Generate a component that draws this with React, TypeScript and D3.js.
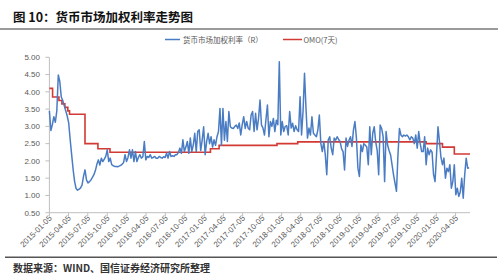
import React from "react";
import * as d3 from "d3";

const W = 498;
const H = 278;

const titleText = "图 10：货币市场加权利率走势图";
const sourceText = "数据来源：WIND、国信证券经济研究所整理";
const seriesNames = ["货币市场加权利率（R）", "OMO(7天)"];

const yTicks = [0.5, 1.0, 1.5, 2.0, 2.5, 3.0, 3.5, 4.0, 4.5, 5.0];
const xTickLabels = [
  "2015-01-05", "2015-04-05", "2015-07-05", "2015-10-05",
  "2016-01-05", "2016-04-05", "2016-07-05", "2016-10-05",
  "2017-01-05", "2017-04-05", "2017-07-05", "2017-10-05",
  "2018-01-05", "2018-04-05", "2018-07-05", "2018-10-05",
  "2019-01-05", "2019-04-05", "2019-07-05", "2019-10-05",
  "2020-01-05", "2020-04-05",
];

// OMO 7-day reverse repo rate (step series)
const omoDates = [
  "2015-01-05", "2015-01-20", "2015-02-19", "2015-03-05", "2015-03-19",
  "2015-04-02", "2015-04-10", "2015-06-22", "2015-08-22", "2015-10-18",
  "2017-02-03", "2017-03-16", "2017-12-14", "2018-03-22", "2019-11-18",
  "2020-02-03", "2020-03-30", "2020-06-12",
];
const omoValues = [
  4.10, 3.85, 3.75, 3.65, 3.55,
  3.45, 3.35, 2.50, 2.35, 2.25,
  2.35, 2.45, 2.50, 2.55, 2.50,
  2.40, 2.20, 2.20,
];

// Money market weighted rate, weekly readings starting 2015-01-05
const mmStart = "2015-01-05";
const mmValues = [
  3.45, 2.88, 3.05, 3.28, 3.12, 3.45, 4.49, 4.30, 3.85, 3.75,
  3.60, 3.45, 3.30, 3.10, 2.62, 2.18, 1.75, 1.40, 1.20, 1.15,
  1.18, 1.22, 1.30, 1.55, 1.74, 1.45, 1.36, 1.40, 1.45, 1.52,
  1.60, 1.72, 1.90, 2.03, 1.88, 2.08, 1.98, 2.05, 2.13, 2.32,
  1.98, 2.08, 1.89, 1.86, 1.84, 1.84, 1.83, 1.85, 1.87, 1.90,
  1.95, 2.18, 1.98, 2.10, 2.32, 2.08, 2.32, 1.98, 2.27, 1.98,
  2.10, 2.18, 2.08, 2.12, 2.56, 2.03, 2.13, 2.10, 2.18, 2.08,
  2.10, 2.13, 2.08, 2.08, 2.13, 2.10, 2.08, 2.12, 2.10, 2.22,
  2.08, 2.27, 2.13, 2.15, 2.13, 2.18, 2.18, 2.25, 2.37, 2.22,
  2.61, 2.27, 2.40, 2.56, 2.22, 2.66, 2.27, 2.46, 2.80, 2.27,
  2.85, 2.90, 2.30, 2.60, 2.99, 2.18, 2.56, 2.80, 2.50, 2.70,
  2.40, 2.61, 2.45, 2.70, 2.85, 3.52, 2.45, 3.52, 2.60, 3.14,
  2.56, 3.43, 2.99, 2.95, 2.94, 3.00, 3.04, 2.94, 3.10, 2.75,
  3.05, 3.28, 2.94, 3.14, 2.95, 2.90, 3.33, 3.43, 2.85, 3.38,
  2.90, 3.23, 3.76, 3.04, 2.95, 2.75, 3.20, 3.62, 2.70, 3.14,
  3.00, 3.23, 2.85, 3.18, 3.05, 4.87, 2.75, 3.14, 2.85, 3.00,
  3.02, 2.75, 3.43, 2.95, 3.09, 2.85, 3.02, 2.90, 2.85, 3.86,
  2.75, 3.43, 4.54, 3.52, 2.66, 2.95, 2.75, 3.28, 2.80, 2.75,
  2.70, 2.90, 3.33, 2.51, 2.27, 2.56, 2.18, 1.60, 2.61, 2.70,
  2.37, 2.18, 2.66, 2.60, 2.70, 2.62, 2.56, 2.35, 2.27, 1.74,
  2.66, 2.42, 2.60, 2.70, 2.42, 2.90, 3.14, 2.66, 1.79, 1.55,
  2.46, 2.27, 2.50, 2.45, 2.40, 1.89, 2.99, 2.18, 2.80, 2.99,
  2.55, 2.30, 1.60, 3.04, 2.94, 2.70, 1.40, 2.85, 2.46, 2.30,
  2.18, 1.89, 1.60, 1.36, 1.12, 2.18, 2.94, 2.75, 2.70, 2.75,
  2.72, 2.75, 2.70, 2.61, 2.70, 2.66, 2.50, 2.75, 2.37, 2.85,
  2.50, 2.27, 2.27, 2.70, 1.89, 2.37, 2.18, 2.32, 2.25, 1.60,
  1.40, 2.18, 2.99, 2.56, 2.10, 1.89, 2.08, 1.50, 1.79, 1.69,
  1.89, 1.21, 1.40, 1.89, 1.02, 1.21, 0.97, 1.10, 1.50, 0.92,
  1.60, 2.08, 1.79, 1.80,
];

const xDomain = ["2015-01-05", "2020-06-12"];

const parse = d3.timeParse("%Y-%m-%d");

export default function App() {
  const plot = { left: 49.4, right: 470, top: 57.3, bottom: 212.7 };
  const x = d3
    .scaleTime()
    .domain(xDomain.map((s) => parse(s) as Date))
    .range([plot.left, plot.right]);
  const y = d3.scaleLinear().domain([0.5, 5]).range([plot.bottom, plot.top]);

  const start = parse(mmStart) as Date;
  const mmData = mmValues.map((v, i) => ({ d: d3.timeDay.offset(start, 7 * i), v }));
  const omoData = omoDates.map((s, i) => ({ d: parse(s) as Date, v: omoValues[i] }));

  const line = d3
    .line<{ d: Date; v: number }>()
    .x((p) => x(p.d))
    .y((p) => y(p.v));
  const stepLine = d3
    .line<{ d: Date; v: number }>()
    .x((p) => x(p.d))
    .y((p) => y(p.v))
    .curve(d3.curveStepAfter);

  const axisColor = "#bfbfbf";
  const labelColor = "#595959";
  const blue = "#4a7cc4";
  const red = "#d23a34";
  const font = "'Noto Sans CJK SC', 'Noto Sans', sans-serif";

  return (
    <svg
      width={W}
      height={H}
      style={{ position: "absolute", left: 0, top: 0, background: "#fff" }}
      fontFamily={font}
    >
      {/* title */}
      <text x={13} y={22} fontSize={12.5} fontWeight={700} fill="#111">
        {titleText}
      </text>
      <rect x={0} y={28} width={W} height={2} fill="#9a9a9a" />

      {/* legend */}
      <line x1={165} x2={180} y1={39.5} y2={39.5} stroke={blue} strokeWidth={1.5} />
      <text x={183} y={42.5} fontSize={7.5} fill={labelColor}>
        {seriesNames[0]}
      </text>
      <line x1={283} x2={302} y1={39.5} y2={39.5} stroke={red} strokeWidth={1.5} />
      <text x={303.5} y={42.5} fontSize={7.5} fill={labelColor}>
        {seriesNames[1]}
      </text>

      {/* y axis */}
      <line x1={plot.left} x2={plot.left} y1={plot.top} y2={plot.bottom} stroke={axisColor} />
      {yTicks.map((t) => (
        <g key={t}>
          <line x1={plot.left - 4} x2={plot.left} y1={y(t)} y2={y(t)} stroke={axisColor} />
          <text
            x={40}
            y={y(t)}
            dy="0.35em"
            textAnchor="end"
            fontSize={8}
            fill={labelColor}
            fontFamily="'Liberation Sans', Arial, sans-serif"
          >
            {t.toFixed(2)}
          </text>
        </g>
      ))}

      {/* x axis */}
      <line x1={plot.left} x2={plot.right} y1={plot.bottom} y2={plot.bottom} stroke={axisColor} />
      {xTickLabels.map((s) => {
        const tx = x(parse(s) as Date);
        return (
          <g key={s}>
            <line x1={tx} x2={tx} y1={plot.bottom} y2={plot.bottom + 4} stroke={axisColor} />
            <text
              transform={`translate(${tx + 3},${plot.bottom + 6}) rotate(-45)`}
              textAnchor="end"
              fontSize={8}
              fill={labelColor}
              fontFamily="'Liberation Sans', Arial, sans-serif"
            >
              {s}
            </text>
          </g>
        );
      })}

      {/* series */}
      <path d={stepLine(omoData) || ""} fill="none" stroke={red} strokeWidth={1.6} />
      <path
        d={line(mmData) || ""}
        fill="none"
        stroke={blue}
        strokeWidth={1.5}
        strokeLinejoin="round"
      />

      {/* bottom rule and source */}
      <rect x={5} y={256.5} width={492} height={1.5} fill="#555" />
      <text x={13} y={272} fontSize={10} fontWeight={700} fill="#333">
        {sourceText}
      </text>
    </svg>
  );
}
